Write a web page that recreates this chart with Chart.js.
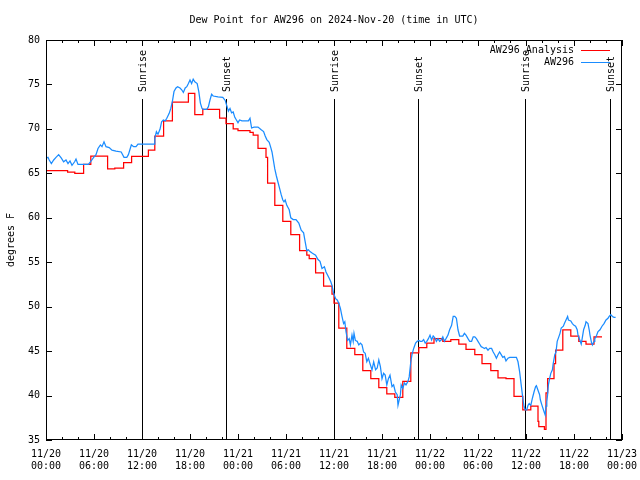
<!DOCTYPE html>
<html>
<head>
<meta charset="utf-8">
<title>Dew Point for AW296</title>
<script src="https://cdn.jsdelivr.net/npm/chart.js@4.4.1/dist/chart.umd.min.js"></script>
<style>
    html, body { margin: 0; padding: 0; background: #fff; }
    #chartDewPoint { display: block; }
</style>
</head>
<body>
<canvas id="chartDewPoint" width="640" height="480"></canvas>
<script>
// Horas desde 11/20 00:00 UTC
const xTickLabels = [
    ['11/20', '00:00'], ['11/20', '06:00'], ['11/20', '12:00'], ['11/20', '18:00'],
    ['11/21', '00:00'], ['11/21', '06:00'], ['11/21', '12:00'], ['11/21', '18:00'],
    ['11/22', '00:00'], ['11/22', '06:00'], ['11/22', '12:00'], ['11/22', '18:00'],
    ['11/23', '00:00'],
];

// Salida / puesta del sol
const sunHours = [12.05, 22.5, 36.05, 46.45, 59.9, 70.45];
const sunLabels = ['Sunrise', 'Sunset', 'Sunrise', 'Sunset', 'Sunrise', 'Sunset'];

// Analisis (escalonado, cada valor vale hasta el siguiente cambio)
const analysisHours = [
    0, 2.7, 3.6, 4.7, 5.6, 7.7, 8.6, 9.7, 10.7, 12.8,
    13.6, 14.7, 15.8, 17.8, 18.6, 19.6, 21.7, 22.5, 23.4, 24.0,
    25.5, 25.9, 26.5, 27.5, 27.7, 28.6, 29.6, 30.6, 31.7, 32.6,
    32.9, 33.7, 34.7, 35.75, 36.0, 36.6, 37.6, 38.6, 39.6, 40.6,
    41.6, 42.6, 43.6, 44.6, 45.6, 46.6, 47.6, 48.5, 49.6, 50.6,
    51.6, 52.5, 53.6, 54.5, 55.6, 56.5, 57.5, 58.5, 59.6, 60.6,
    61.5, 61.6, 62.3, 62.5, 62.7, 63.5, 63.7, 64.6, 65.6, 66.6,
    67.5, 68.5, 69.5,
];
const analysisValues = [
    65.3, 65.15, 65.0, 66.0, 66.95, 65.5, 65.6, 66.2, 66.9, 67.6,
    69.2, 70.9, 73.0, 74.0, 71.6, 72.2, 71.2, 70.6, 70.0, 69.8,
    69.6, 69.3, 67.8, 66.8, 63.9, 61.4, 59.6, 58.1, 56.3, 55.8,
    55.4, 53.8, 52.3, 51.4, 50.4, 47.6, 45.3, 44.6, 42.8, 41.9,
    40.9, 40.2, 39.8, 41.6, 44.8, 45.4, 45.9, 46.4, 46.1, 46.3,
    45.8, 45.2, 44.6, 43.6, 42.8, 42.0, 41.9, 39.9, 38.4, 38.8,
    37.1, 36.5, 36.2, 40.3, 41.9, 43.6, 45.1, 47.4, 46.7, 46.1,
    45.8, 46.6, 46.6,
];

// Observaciones de la estacion
const obsHours = [
    0, 0.25, 0.4, 0.67, 0.96, 1.25, 1.58, 1.92, 2.2, 2.5,
    2.75, 3.0, 3.25, 3.58, 3.75, 4.0, 4.5, 5.3, 5.55, 5.96,
    6.25, 6.5, 6.8, 7.0, 7.25, 7.5, 7.9, 8.25, 8.75, 9.4,
    9.75, 10.1, 10.3, 10.67, 10.96, 11.25, 11.5, 13.5, 13.6, 13.8,
    14.0, 14.25, 14.45, 14.67, 14.9, 15.1, 15.4, 15.6, 15.8, 16.0,
    16.25, 16.45, 16.75, 16.96, 17.17, 17.4, 17.6, 17.8, 18.0, 18.2,
    18.4, 18.6, 18.9, 19.1, 19.3, 19.5, 19.7, 20.1, 20.3, 20.5,
    20.7, 20.9, 21.5, 22.1, 22.4, 22.6, 22.8, 23.0, 23.2, 23.4,
    23.6, 23.8, 24.0, 24.2, 24.5, 25.3, 25.5, 25.7, 26.0, 26.5,
    26.9, 27.2, 27.4, 27.6, 27.9, 28.1, 28.25, 28.4, 28.6, 28.8,
    29.0, 29.2, 29.4, 29.6, 29.75, 29.9, 30.1, 30.4, 30.6, 30.9,
    31.25, 31.6, 31.9, 32.2, 32.4, 32.6, 32.8, 33.0, 33.3, 33.7,
    34.0, 34.25, 34.5, 34.8, 35.0, 35.4, 35.6, 35.75, 35.95, 36.2,
    36.4, 36.6, 36.8, 37.0, 37.2, 37.35, 37.5, 37.7, 37.9, 38.05,
    38.25, 38.4, 38.5, 38.67, 38.9, 39.1, 39.3, 39.5, 39.7, 39.9,
    40.1, 40.3, 40.5, 40.75, 40.96, 41.2, 41.4, 41.6, 41.8, 42.0,
    42.2, 42.4, 42.6, 42.8, 43.0, 43.25, 43.45, 43.67, 43.9, 44.0,
    44.2, 44.3, 44.4, 44.6, 44.8, 45.0, 45.25, 45.4, 45.6, 45.75,
    45.96, 46.2, 46.4, 46.6, 46.8, 47.0, 47.2, 47.4, 47.6, 47.8,
    48.0, 48.2, 48.4, 48.6, 48.8, 49.0, 49.2, 49.4, 49.6, 49.8,
    50.0, 50.25, 50.45, 50.7, 50.9, 51.1, 51.3, 51.5, 51.7, 52.1,
    52.3, 52.5, 52.75, 52.96, 53.2, 53.4, 53.6, 53.8, 54.0, 54.2,
    54.4, 54.6, 54.8, 55.0, 55.25, 55.45, 55.7, 55.9, 56.1, 56.3,
    56.5, 56.7, 56.9, 57.1, 57.3, 57.5, 57.75, 57.96, 58.8, 59.0,
    59.2, 59.4, 59.6, 59.75, 59.9, 60.1, 60.25, 60.4, 60.6, 60.8,
    61.0, 61.2, 61.3, 61.5, 61.7, 61.8, 62.0, 62.25, 62.4, 62.5,
    62.6, 62.7, 62.8, 62.95, 63.1, 63.3, 63.4, 63.6, 63.75, 63.9,
    64.1, 64.25, 64.4, 64.67, 64.8, 65.0, 65.2, 65.3, 65.6, 65.8,
    66.0, 66.2, 66.4, 66.5, 66.7, 66.9, 67.0, 67.2, 67.4, 67.5,
    67.75, 67.9, 68.0, 68.2, 68.3, 68.5, 68.6, 68.75, 69.0, 69.25,
    69.5, 69.75, 70.0, 70.25, 70.4, 70.6, 70.8, 71.0, 71.2,
];
const obsValues = [
    66.7, 66.8, 66.5, 66.1, 66.5, 66.8, 67.1, 66.7, 66.3, 66.5,
    66.1, 66.4, 65.9, 66.3, 66.6, 66.0, 66.0, 66.0, 66.3, 66.8,
    67.1, 67.8, 68.2, 68.0, 68.55, 68.0, 67.9, 67.6, 67.5, 67.4,
    66.8, 66.8, 67.1, 68.2, 68.0, 68.0, 68.3, 68.3, 68.9, 69.7,
    69.4, 69.95, 70.8, 71.0, 70.9, 71.2, 71.75, 72.3, 73.1, 74.2,
    74.6, 74.75, 74.6, 74.4, 74.1, 74.6, 74.75, 75.1, 75.5, 75.1,
    75.6, 75.3, 75.1, 74.2, 72.9, 72.3, 72.2, 72.2, 72.5, 73.25,
    73.9, 73.7, 73.6, 73.55, 73.2, 72.6, 72.0, 72.3, 71.8, 71.9,
    71.3, 71.0, 70.7, 71.0, 70.9, 70.9, 71.2, 70.1, 70.2, 70.2,
    69.9, 69.7, 69.2, 68.8, 68.5, 67.9, 67.4, 66.6, 65.5, 64.7,
    64.0, 63.3, 62.6, 62.0, 61.8, 62.0, 61.4, 60.9, 60.0, 59.8,
    59.8, 59.4, 58.6, 58.3, 57.3, 56.3, 56.4, 56.2, 56.0, 55.8,
    55.3, 55.1, 54.3, 54.5, 53.9, 53.2, 52.8, 52.4, 51.5, 50.9,
    50.75, 50.4, 49.8, 48.9, 48.1, 48.3, 47.2, 46.2, 46.4, 45.7,
    46.8, 46.1, 47.0, 46.2, 46.1, 45.7, 45.9, 45.7, 44.9, 44.75,
    43.8, 44.2, 43.6, 42.9, 43.8, 42.9, 43.1, 44.0, 43.25, 41.9,
    42.5, 42.3, 41.2, 41.9, 42.3, 41.0, 41.2, 40.4, 40.1, 38.9,
    39.7, 40.1, 41.2, 40.8, 41.4, 41.2, 41.6, 42.1, 43.8, 44.6,
    45.3, 45.9, 46.1, 46.2, 46.1, 46.1, 46.3, 45.9, 46.1, 46.4,
    46.8, 46.25, 46.7, 46.5, 46.1, 46.4, 46.1, 46.25, 46.6, 46.1,
    46.4, 46.8, 47.4, 47.9, 48.9, 48.9, 48.7, 47.4, 46.7, 46.7,
    47.0, 46.8, 46.4, 46.1, 46.1, 46.6, 46.6, 46.4, 46.1, 45.8,
    45.5, 45.4, 45.3, 45.4, 45.1, 45.3, 45.3, 44.9, 44.6, 44.2,
    44.6, 44.9, 44.6, 44.3, 44.4, 43.9, 44.2, 44.3, 44.3, 43.8,
    42.7, 41.2, 39.7, 38.8, 38.4, 38.4, 38.9, 39.1, 38.9, 39.7,
    40.4, 41.0, 41.1, 40.6, 40.1, 39.5, 38.9, 38.2, 37.8, 38.8,
    39.3, 40.1, 41.2, 41.9, 42.5, 42.9, 43.6, 44.6, 44.9, 46.1,
    46.6, 47.0, 47.6, 47.8, 48.1, 48.5, 48.9, 48.5, 48.4, 48.1,
    47.9, 47.8, 47.4, 46.8, 46.3, 45.8, 46.3, 47.4, 47.9, 48.3,
    48.1, 47.4, 46.8, 45.9, 45.7, 46.1, 46.4, 46.6, 47.2, 47.4,
    47.8, 48.1, 48.5, 48.7, 48.9, 49.1, 48.9, 48.8, 48.8,
];

const FONT = { family: "'DejaVu Sans Mono', monospace", size: 10 };

/**
 * Marco estilo gnuplot: lineas de sol, borde, marcas internas y leyenda
 */
const gnuplotFrame = {
    id: 'gnuplotFrame',
    beforeDatasetsDraw: function(chart) {
        const { ctx, chartArea: a, scales: { x } } = chart;
        ctx.save();
        ctx.strokeStyle = '#000';
        ctx.fillStyle = '#000';
        ctx.lineWidth = 1;
        ctx.font = '10px ' + FONT.family;
        sunHours.forEach((h, i) => {
            const px = Math.round(x.getPixelForValue(h)) + 0.5;
            ctx.beginPath();
            ctx.moveTo(px, a.top + 59);
            ctx.lineTo(px, a.bottom);
            ctx.stroke();

            ctx.save();
            ctx.translate(px + 1, a.top + 52);
            ctx.rotate(-Math.PI / 2);
            ctx.textAlign = 'left';
            ctx.textBaseline = 'middle';
            ctx.fillText(sunLabels[i], 0, 0);
            ctx.restore();
        });
        ctx.restore();
    },
    afterDraw: function(chart) {
        const { ctx, chartArea: a, scales: { x, y } } = chart;
        ctx.save();
        ctx.strokeStyle = '#000';
        ctx.lineWidth = 1;

        // Marcas del eje X (mayores cada 6 h, menores cada 2 h)
        ctx.beginPath();
        for (let h = 0; h <= 72; h += 2) {
            const px = Math.round(x.getPixelForValue(h)) + 0.5;
            const len = h % 6 === 0 ? 6 : 3;
            ctx.moveTo(px, a.bottom);
            ctx.lineTo(px, a.bottom - len);
            ctx.moveTo(px, a.top);
            ctx.lineTo(px, a.top + len);
        }
        // Marcas del eje Y
        for (let v = 35; v <= 80; v += 5) {
            const py = Math.round(y.getPixelForValue(v)) + 0.5;
            ctx.moveTo(a.left, py);
            ctx.lineTo(a.left + 6, py);
            ctx.moveTo(a.right, py);
            ctx.lineTo(a.right - 6, py);
        }
        ctx.stroke();

        // Borde
        ctx.strokeRect(a.left + 0.5, a.top + 0.5, a.right - a.left - 1, a.bottom - a.top - 1);

        // Leyenda
        ctx.font = '10px ' + FONT.family;
        ctx.textAlign = 'right';
        ctx.textBaseline = 'middle';
        ctx.fillStyle = '#000';
        const order = [1, 0];
        order.forEach((dsIndex, row) => {
            const ds = chart.data.datasets[dsIndex];
            const ly = a.top + 10 + row * 12;
            ctx.fillText(ds.label, a.right - 48, ly);
            ctx.strokeStyle = ds.borderColor;
            ctx.beginPath();
            ctx.moveTo(a.right - 41, ly + 0.5);
            ctx.lineTo(a.right - 12, ly + 0.5);
            ctx.stroke();
        });
        ctx.restore();
    },
};

Chart.defaults.font.family = FONT.family;
Chart.defaults.font.size = FONT.size;
Chart.defaults.color = '#000';

new Chart(document.getElementById('chartDewPoint'), {
    type: 'line',
    data: {
        datasets: [
            {
                label: 'AW296',
                data: obsHours.map((h, i) => ({ x: h, y: obsValues[i] })),
                borderColor: '#1a8cff',
                borderWidth: 1.25,
                pointRadius: 0,
                fill: false,
                order: 0,
            },
            {
                label: 'AW296 Analysis',
                data: analysisHours.map((h, i) => ({ x: h, y: analysisValues[i] })),
                borderColor: '#ff0000',
                borderWidth: 1.25,
                pointRadius: 0,
                stepped: true,
                fill: false,
                order: 1,
            },
        ],
    },
    options: {
        responsive: false,
        animation: false,
        layout: { padding: { left: 0, right: 18, top: 0, bottom: 0 } },
        plugins: {
            legend: { display: false },
            tooltip: { enabled: false },
            title: {
                display: true,
                fullSize: false,
                text: 'Dew Point for AW296 on 2024-Nov-20 (time in UTC)',
                font: { family: FONT.family, size: 10, weight: 'normal' },
                color: '#000',
                padding: { top: 14, bottom: 14 },
            },
        },
        scales: {
            x: {
                type: 'linear',
                min: 0,
                max: 72,
                grid: { display: false, drawTicks: false },
                border: { display: false },
                ticks: {
                    stepSize: 6,
                    autoSkip: false,
                    maxRotation: 0,
                    padding: 8,
                    callback: (v) => xTickLabels[Math.round(v / 6)],
                },
                afterFit: (scale) => {
                    scale.height = 40;
                    scale.paddingLeft = 0;
                    scale.paddingRight = 0;
                },
            },
            y: {
                min: 35,
                max: 80,
                grid: { display: false, drawTicks: false },
                border: { display: false },
                ticks: { stepSize: 5, padding: 6 },
                title: {
                    display: true,
                    text: 'degrees F',
                    font: { family: FONT.family, size: 10 },
                    padding: { top: 5, bottom: 0 },
                },
                afterFit: (scale) => {
                    scale.width = 46;
                    scale.paddingTop = 0;
                    scale.paddingBottom = 0;
                },
            },
        },
    },
    plugins: [gnuplotFrame],
});
</script>
</body>
</html>
